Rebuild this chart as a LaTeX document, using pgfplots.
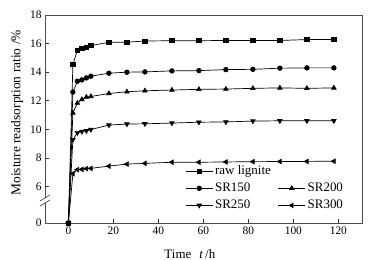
\documentclass[border=0pt]{standalone}
\usepackage{pgfplots}
\usepackage{pgfplotstable}
\pgfplotsset{compat=1.18}
\usepackage{fontspec}
\setmainfont{Liberation Serif}

\pgfplotstableread{
t raw SR150 SR200 SR250 SR300
0 0 0 0 0 0
2 14.55 12.61 11.15 9.28 6.90
4 15.53 13.37 11.84 9.77 7.18
6 15.65 13.46 12.09 9.85 7.20
8 15.74 13.60 12.26 9.90 7.25
10 15.86 13.72 12.30 9.99 7.27
18 16.09 13.93 12.51 10.30 7.43
26 16.10 14.00 12.63 10.37 7.57
34 16.18 14.02 12.70 10.39 7.62
46 16.20 14.09 12.75 10.44 7.70
58 16.20 14.11 12.80 10.50 7.70
70 16.22 14.18 12.82 10.52 7.72
82 16.22 14.20 12.87 10.58 7.74
94 16.22 14.28 12.90 10.60 7.75
106 16.28 14.30 12.87 10.60 7.76
118 16.28 14.30 12.90 10.60 7.77
}\data

\begin{document}
\begin{tikzpicture}
\path[use as bounding box] (-45bp,-37bp) rectangle (327bp,223bp);
\begin{axis}[
  scale only axis, width=317bp, height=208bp,
  at={(0,0)}, anchor=south west,
  xmin=-10.4, xmax=130.5, ymin=3.45, ymax=18,
  xtick={0,20,...,120},
  ytick={3.45,6,8,10,12,14,16,18},
  yticklabels={0,6,8,10,12,14,16,18},
  tick align=inside, xtick pos=bottom, ytick pos=left,
  major tick length=4bp,
  clip=false,
  axis line style={black!70, line width=0.6pt},
  tick style={black!80, line width=0.6pt},
  font=\fontsize{11.5}{13}\selectfont,
  tick label style={font=\fontsize{11.5}{13}\selectfont},
  /pgf/number format/assume math mode=true,
  xlabel={Time\hspace{8bp}\textit{t}\hspace{2bp}/h},
  ylabel={Moisture readsorption ratio /\%},
  xlabel style={at={(axis description cs:0.457,0)}, anchor=center, yshift=-31bp, font=\fontsize{13}{15}\selectfont},
  ylabel style={at={(ticklabel cs:0.53)}, font=\fontsize{13.5}{15}\selectfont},
  y filter/.expression={y<1 ? 3.45 : y},
  every axis plot/.append style={black, line width=0.7pt, mark size=2.3bp},
  legend style={draw=none, fill=none, at={(0.95,0.045)}, anchor=south east,
    font=\fontsize{13}{15}\selectfont, row sep=3bp, inner sep=1bp,
    /tikz/every even column/.append style={column sep=5bp}},
  legend columns=2,
  legend cell align=left,
  legend image code/.code={
    \draw[black!55, line width=0.9pt] (0cm,0cm) -- (0.95cm,0cm);
    \draw[black, mark repeat=2, mark phase=2] plot coordinates {(0cm,0cm) (0.475cm,0cm) (0.95cm,0cm)};
  },
]
\addplot[mark=square*, mark size=2.1bp] table[x=t, y=raw] {\data};
\addlegendentry{raw lignite}
\addlegendimage{empty legend}\addlegendentry{}
\addplot[mark=*] table[x=t, y=SR150] {\data};
\addlegendentry{SR150}
\addplot[mark=triangle*, mark size=2.6bp] table[x=t, y=SR200] {\data};
\addlegendentry{SR200}
\addplot[mark=triangle*, mark options={rotate=180}, mark size=2.6bp] table[x=t, y=SR250] {\data};
\addlegendentry{SR250}
\addplot[mark=triangle*, mark options={rotate=90}, mark size=2.6bp] table[x=t, y=SR300] {\data};
\addlegendentry{SR300}
% axis break
\fill[white] (axis cs:-10.4,4.85) rectangle ([xshift=1bp]axis cs:-10.4,5.2);
\draw[black!80, line width=0.6pt] ([xshift=-5bp,yshift=-3bp]axis cs:-10.4,4.85) -- ([xshift=5bp,yshift=3bp]axis cs:-10.4,4.85);
\draw[black!80, line width=0.6pt] ([xshift=-5bp,yshift=-3bp]axis cs:-10.4,5.2) -- ([xshift=5bp,yshift=3bp]axis cs:-10.4,5.2);
\end{axis}
\end{tikzpicture}
\end{document}
